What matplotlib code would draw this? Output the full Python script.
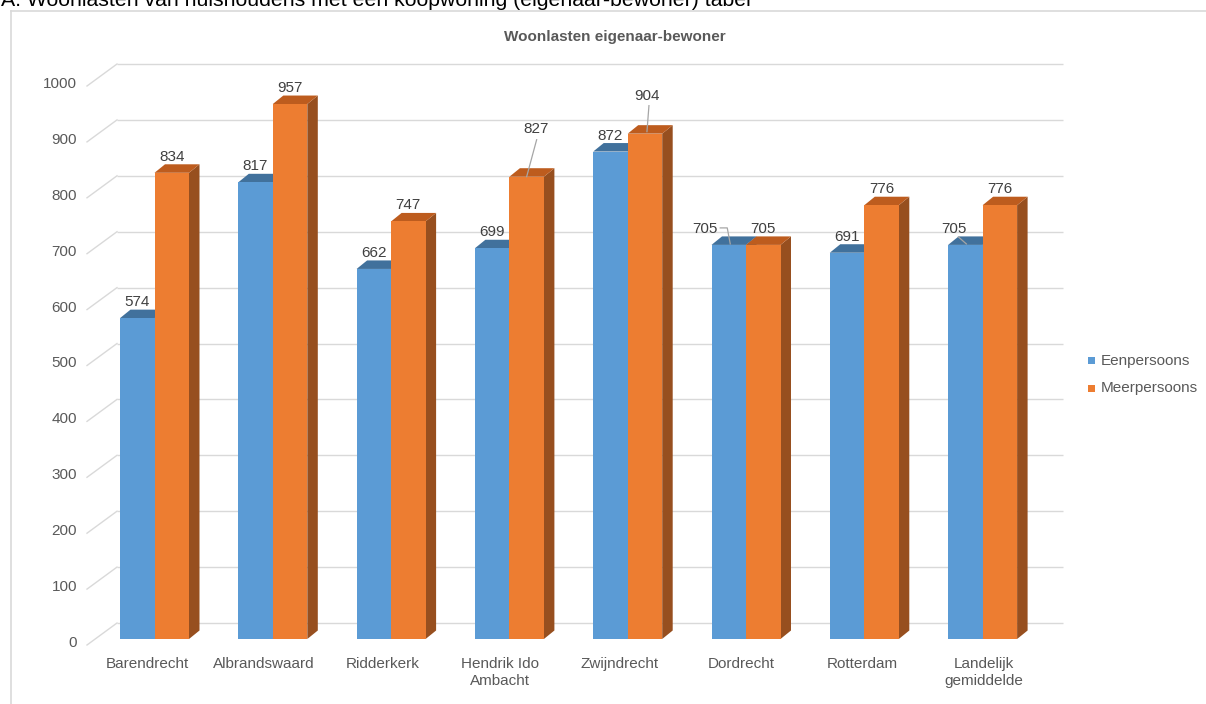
import matplotlib
matplotlib.use("Agg")
import matplotlib.pyplot as plt
from matplotlib.patches import Polygon, Rectangle
from matplotlib.lines import Line2D

plt.rcParams['font.family'] = ['Liberation Sans', 'DejaVu Sans']

# ---------------- data ----------------
categories = ["Barendrecht", "Albrandswaard", "Ridderkerk", "Hendrik Ido\nAmbacht",
              "Zwijndrecht", "Dordrecht", "Rotterdam", "Landelijk\ngemiddelde"]
eenpersoons = [574, 817, 662, 699, 872, 705, 691, 705]
meerpersoons = [834, 957, 747, 827, 904, 705, 776, 776]
series_names = ["Eenpersoons", "Meerpersoons"]
y_ticks = [0, 100, 200, 300, 400, 500, 600, 700, 800, 900, 1000]
chart_title = "Woonlasten eigenaar-bewoner"
header = "A. Woonlasten van huishoudens met een koopwoning (eigenaar-bewoner) tabel"

# ---------------- layout (pixels) ----------------
W, H = 1206, 704
x0_px, step_px = 154.5, 118.3      # first group centre, group spacing
y0_px, ppv = 639.0, 0.559          # front baseline, pixels per value unit
bw = 34.5 / step_px                # bar width (data units)
dx = 10.5 / step_px                # depth offset x
dy = 8.5 / ppv                     # depth offset y
back_dy = 16 / ppv
back_left = (117 - x0_px) / step_px
back_right = (1063 - x0_px) / step_px
front_left = (87 - x0_px) / step_px
front_dy = -6 / ppv

colors_front = ['#5B9BD5', '#ED7D31']
colors_top = ['#41719C', '#BD5C1E']
colors_side = ['#3A6894', '#974F1F']
grid_col = '#D9D9D9'
txt_col = '#595959'
lab_col = '#404040'

# label x-shifts (pixels) for category labels
cat_shift_px = [-7.5, -9.5, -8.5, -9, -7.7, -5, -1.5, 1]
# manual data label displacement (pixels, +right, +down) and leader lines (relative to label centre)
label_offsets = {(3, 1): (9, -32), (4, 1): (2, -22), (5, 0): (-24, 0), (7, 0): (-11, 0)}
leaders = {(3, 1): [(1, 11), (-9, 48)],
           (4, 1): [(2, 10), (0, 36)],
           (5, 0): [(15.5, -1), (22.5, -1), (25.5, 15)],
           (7, 0): [(4, 8), (12, 15)]}

fig = plt.figure(figsize=(W / 100, H / 100), dpi=100)
left_px = x0_px - 0.5 * step_px
right_px = x0_px + 7.5 * step_px
ax = fig.add_axes([left_px / W, (H - y0_px) / H, (right_px - left_px) / W, 1000 * ppv / H])
ax.set_xlim(-0.5, 7.5)
ax.set_ylim(0, 1000)
ax.axis('off')

def pdx(p):
    return p / step_px

def pdy(p):
    return -p / ppv

# back wall grid + floor diagonals
for v in y_ticks:
    ax.plot([back_left, back_right], [v + back_dy, v + back_dy], color=grid_col, lw=1.0,
            zorder=0, clip_on=False, solid_capstyle='butt')
    ax.plot([front_left, back_left], [v + front_dy, v + back_dy], color=grid_col, lw=1.0,
            zorder=0, clip_on=False)
    ax.text(pdx(77 - x0_px), v + pdy(4), str(v), ha='right', va='center',
            fontsize=11, color=txt_col, clip_on=False)

# bars
series = [eenpersoons, meerpersoons]
for s, vals in enumerate(series):
    for i, v in enumerate(vals):
        xl = i - bw if s == 0 else i
        xr = xl + bw
        z = 2 + 2 * s
        side = Polygon([(xr, 0), (xr + dx, dy), (xr + dx, v + dy), (xr, v)],
                       closed=True, facecolor=colors_side[s], edgecolor='none', zorder=z)
        top = Polygon([(xl, v), (xr, v), (xr + dx, v + dy), (xl + dx, v + dy)],
                      closed=True, facecolor=colors_top[s], edgecolor='none', zorder=z)
        ax.add_patch(side)
        ax.add_patch(top)
    xs = [i - bw if s == 0 else i for i in range(len(vals))]
    ax.bar(xs, vals, width=bw, align='edge', color=colors_front[s], zorder=2 + 2 * s + 1,
           label=series_names[s], edgecolor='none')

# data labels
for s, vals in enumerate(series):
    for i, v in enumerate(vals):
        cx = i - bw / 2 if s == 0 else i + bw / 2
        cy = v + pdy(-16)
        ox, oy = label_offsets.get((i, s), (0, 0))
        lx, ly = cx + pdx(ox), cy + pdy(oy)
        ax.text(lx, ly, str(v), ha='center', va='center', fontsize=11, color=lab_col,
                zorder=10, clip_on=False)
        if (i, s) in leaders:
            pts = leaders[(i, s)]
            ax.plot([lx + pdx(p[0]) for p in pts], [ly + pdy(p[1]) for p in pts],
                    color='#A6A6A6', lw=0.9, zorder=9, clip_on=False)

# category labels
for i, c in enumerate(categories):
    ax.text(i + pdx(cat_shift_px[i]), pdy(657 - y0_px), c, ha='center', va='top',
            fontsize=11, color=txt_col, linespacing=1.25, clip_on=False)

# titles
fig.text(615 / W, 1 - 37 / H, chart_title, ha='center', va='center', fontsize=11,
         fontweight='bold', color=txt_col)
fig.text(1 / W, 1 - 6 / H, header, ha='left', va='baseline', fontsize=15.3, color='black')

# chart frame
fig.add_artist(Line2D([10.5 / W, 10.5 / W], [0, 1 - 10.5 / H], color='#D9D9D9', lw=1.2,
                      transform=fig.transFigure))
fig.add_artist(Line2D([10.5 / W, 1], [1 - 10.5 / H, 1 - 10.5 / H], color='#D9D9D9', lw=1.2,
                      transform=fig.transFigure))

# legend
for s, name in enumerate(series_names):
    yc = 361 + 27 * s
    fig.add_artist(Rectangle((1088 / W, 1 - (yc + 3.5) / H), 7 / W, 7 / H,
                             facecolor=colors_front[s], edgecolor='none',
                             transform=fig.transFigure))
    fig.text(1101 / W, 1 - yc / H, name, ha='left', va='center', fontsize=11,
             color=txt_col)

fig.savefig("out.png", dpi=100)
